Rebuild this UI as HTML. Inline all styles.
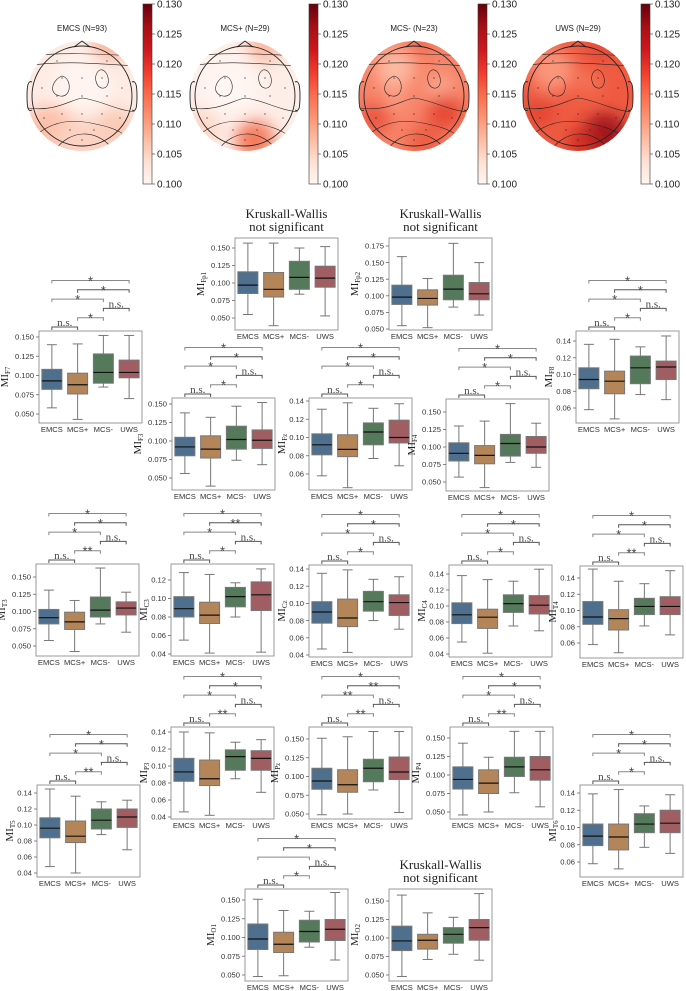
<!DOCTYPE html>
<html><head><meta charset="utf-8"><style>
html,body{margin:0;padding:0;background:#fff;}
svg{display:block;}
</style></head><body>
<svg id="fig" width="686" height="991" viewBox="0 0 686 991" xmlns="http://www.w3.org/2000/svg">
<defs>
<linearGradient id="reds" x1="0" y1="1" x2="0" y2="0">
<stop offset="0" stop-color="#fff5f0"/><stop offset="0.125" stop-color="#fee0d2"/><stop offset="0.25" stop-color="#fcbba1"/><stop offset="0.375" stop-color="#fc9272"/><stop offset="0.5" stop-color="#fb6a4a"/><stop offset="0.625" stop-color="#ef3b2c"/><stop offset="0.75" stop-color="#cb181d"/><stop offset="0.875" stop-color="#a50f15"/><stop offset="1" stop-color="#67000d"/>
</linearGradient>
<filter id="blur" x="-50%" y="-50%" width="200%" height="200%"><feGaussianBlur stdDeviation="8"/></filter>
</defs>
<g id="topo"></g>
<g id="boxes"></g>
</svg>
<script>
const groups = ['EMCS','MCS+','MCS-','UWS'];
const boxColors = ['#4e6f8e','#b5855a','#55795b','#a05d62'];
// [whislo, q1, median, q3, whishi]
const statsFp1 = [[0.055,0.085,0.097,0.116,0.157],[0.039,0.080,0.091,0.115,0.157],[0.084,0.091,0.108,0.131,0.150],[0.053,0.094,0.107,0.124,0.152]];
const statsFp2 = [[0.055,0.087,0.098,0.116,0.159],[0.052,0.086,0.096,0.109,0.126],[0.083,0.094,0.110,0.131,0.179],[0.071,0.094,0.103,0.120,0.150]];
const statsF7 = [[0.058,0.082,0.093,0.108,0.140],[0.043,0.076,0.088,0.103,0.141],[0.085,0.090,0.104,0.128,0.152],[0.070,0.097,0.104,0.120,0.152]];
const statsF8 = [[0.058,0.083,0.094,0.108,0.136],[0.047,0.077,0.092,0.104,0.142],[0.076,0.089,0.108,0.122,0.133],[0.070,0.094,0.109,0.116,0.146]];
const statsF3 = [[0.056,0.080,0.092,0.105,0.138],[0.039,0.077,0.089,0.107,0.132],[0.074,0.089,0.102,0.120,0.147],[0.068,0.090,0.101,0.115,0.152]];
const statsFz = [[0.058,0.081,0.092,0.104,0.131],[0.045,0.079,0.087,0.103,0.138],[0.077,0.092,0.106,0.116,0.132],[0.069,0.094,0.100,0.119,0.137]];
const statsF4 = [[0.057,0.080,0.091,0.106,0.130],[0.042,0.076,0.088,0.102,0.137],[0.078,0.087,0.105,0.118,0.162],[0.071,0.091,0.100,0.115,0.134]];
const statsT3 = [[0.058,0.082,0.091,0.103,0.131],[0.042,0.074,0.085,0.099,0.116],[0.082,0.092,0.102,0.121,0.163],[0.070,0.095,0.105,0.114,0.128]];
const statsC3 = [[0.055,0.080,0.089,0.102,0.128],[0.041,0.073,0.082,0.096,0.126],[0.080,0.091,0.102,0.112,0.117],[0.042,0.087,0.104,0.118,0.132]];
const statsCz = [[0.047,0.077,0.090,0.102,0.135],[0.043,0.073,0.083,0.105,0.139],[0.080,0.091,0.102,0.114,0.128],[0.070,0.086,0.101,0.110,0.131]];
const statsC4 = [[0.055,0.078,0.089,0.104,0.138],[0.041,0.072,0.086,0.096,0.133],[0.075,0.092,0.103,0.114,0.131],[0.069,0.090,0.101,0.113,0.146]];
const statsT4 = [[0.058,0.083,0.092,0.111,0.151],[0.048,0.076,0.090,0.101,0.136],[0.081,0.095,0.105,0.115,0.133],[0.070,0.095,0.105,0.117,0.149]];
const statsT5 = [[0.048,0.084,0.096,0.109,0.145],[0.040,0.078,0.086,0.105,0.136],[0.088,0.095,0.106,0.120,0.129],[0.069,0.097,0.110,0.120,0.131]];
const statsP3 = [[0.046,0.082,0.093,0.109,0.140],[0.042,0.077,0.085,0.107,0.139],[0.085,0.095,0.111,0.119,0.128],[0.069,0.095,0.109,0.118,0.131]];
const statsPz = [[0.049,0.083,0.094,0.111,0.151],[0.050,0.079,0.089,0.109,0.153],[0.082,0.093,0.111,0.123,0.160],[0.052,0.096,0.106,0.126,0.160]];
const statsP4 = [[0.046,0.081,0.094,0.111,0.143],[0.050,0.075,0.089,0.107,0.124],[0.076,0.098,0.111,0.124,0.159],[0.057,0.093,0.107,0.125,0.159]];
const statsT6 = [[0.058,0.079,0.090,0.104,0.139],[0.052,0.074,0.089,0.104,0.144],[0.077,0.094,0.104,0.116,0.125],[0.070,0.094,0.105,0.120,0.138]];
const statsO1 = [[0.048,0.084,0.098,0.118,0.151],[0.049,0.080,0.091,0.107,0.136],[0.087,0.094,0.108,0.123,0.135],[0.070,0.096,0.111,0.124,0.160]];
const statsO2 = [[0.048,0.083,0.096,0.116,0.158],[0.071,0.085,0.097,0.105,0.134],[0.078,0.093,0.105,0.114,0.128],[0.070,0.097,0.114,0.125,0.160]];
// significance labels: EMCS-MCS+, MCS+-MCS-, MCS--UWS, EMCS-MCS-, MCS+-UWS, EMCS-UWS
const sigStd = ['n.s.','*','n.s.','*','*','*'];
const sigT = ['n.s.','**','n.s.','*','*','*'];
const sigC3 = ['n.s.','*','n.s.','*','**','*'];
const sigPz = ['n.s.','**','n.s.','**','**','*'];
const sigO1 = ['n.s.','*','n.s.','','*','*'];
const ticks3 = [0.050,0.075,0.100,0.125,0.150];
const ticksFp2 = [0.050,0.075,0.100,0.125,0.150,0.175];
const ticks2a = [0.06,0.08,0.10,0.12,0.14];
const ticks2b = [0.04,0.06,0.08,0.10,0.12];
const ticks2c = [0.04,0.06,0.08,0.10,0.12,0.14];
const cbTicks = [0.100,0.105,0.110,0.115,0.120,0.125,0.130];
const topoTitles = ['EMCS (N=93)','MCS+ (N=29)','MCS- (N=23)','UWS (N=29)'];

const pairs = [[0,1],[1,2],[2,3],[0,2],[1,3],[0,3]];
const panels = [
 {key:'Fp1',x:235,y:238,ticks:ticks3,dec:3,a:[0.150,248],b:[0.050,318],stats:statsFp1,sig:null},
 {key:'Fp2',x:389,y:238,ticks:ticksFp2,dec:3,a:[0.175,246],b:[0.050,329],stats:statsFp2,sig:null},
 {key:'F7',x:39,y:331,ticks:ticks3,dec:3,a:[0.150,337],b:[0.050,414],stats:statsF7,sig:sigStd},
 {key:'F8',x:576,y:331,ticks:ticks2a,dec:2,a:[0.14,341],b:[0.06,408],stats:statsF8,sig:sigStd},
 {key:'F3',x:172,y:398,ticks:ticks3,dec:3,a:[0.150,404],b:[0.050,478],stats:statsF3,sig:sigStd},
 {key:'Fz',x:309,y:398,ticks:ticks2a,dec:2,a:[0.14,401],b:[0.06,474],stats:statsFz,sig:sigStd},
 {key:'F4',x:446,y:399,ticks:ticks3,dec:3,a:[0.150,412],b:[0.050,482],stats:statsF4,sig:sigStd},
 {key:'T3',x:36,y:564,ticks:ticks3,dec:3,a:[0.150,577],b:[0.050,646],stats:statsT3,sig:sigT},
 {key:'C3',x:171,y:564,ticks:ticks2b,dec:2,a:[0.12,580],b:[0.04,654],stats:statsC3,sig:sigC3},
 {key:'Cz',x:309,y:565,ticks:ticks2c,dec:2,a:[0.14,569],b:[0.04,655],stats:statsCz,sig:sigStd},
 {key:'C4',x:449,y:565,ticks:ticks2c,dec:2,a:[0.14,574],b:[0.04,654],stats:statsC4,sig:sigStd},
 {key:'T4',x:580,y:566,ticks:ticks2a,dec:2,a:[0.14,578],b:[0.06,643],stats:statsT4,sig:sigT},
 {key:'T5',x:37,y:785,ticks:ticks2c,dec:2,a:[0.14,793],b:[0.04,873],stats:statsT5,sig:sigT},
 {key:'P3',x:171,y:727,ticks:ticks2c,dec:2,a:[0.14,732],b:[0.04,817],stats:statsP3,sig:sigT},
 {key:'Pz',x:309,y:727,ticks:ticks3,dec:3,a:[0.150,739],b:[0.050,814],stats:statsPz,sig:sigPz},
 {key:'P4',x:450,y:727,ticks:ticks3,dec:3,a:[0.150,738],b:[0.050,812],stats:statsP4,sig:sigT},
 {key:'T6',x:580,y:785,ticks:ticks2a,dec:2,a:[0.14,793],b:[0.06,862],stats:statsT6,sig:sigStd},
 {key:'O1',x:245,y:889,ticks:ticks3,dec:3,a:[0.150,900],b:[0.050,975],stats:statsO1,sig:sigO1},
 {key:'O2',x:389,y:889,ticks:ticks3,dec:3,a:[0.150,901],b:[0.050,975],stats:statsO2,sig:null}
];
const NS='http://www.w3.org/2000/svg';
function mk(tag,parent){const e=document.createElementNS(NS,tag);parent.appendChild(e);return e;}
function set(e,o){for(const k in o)e.setAttribute(k,o[k]);return e;}
const SANS='"Liberation Sans", "DejaVu Sans", sans-serif';
const SERIF='"Liberation Serif", "DejaVu Serif", serif';

// ---------- boxplot panels ----------
const root=document.getElementById('boxes');
panels.forEach(p=>{
  const W=103,H=92;
  const g=mk('g',root);
  
  
  const k=(p.a[1]-p.b[1])/(p.a[0]-p.b[0]);
  const yS=v=>p.b[1]+(v-p.b[0])*k;
  const xS=i=>p.x+W*(i+0.5)/4;
  const fr=mk('rect',g);
  set(fr,{x:p.x,y:p.y,width:W,height:H,fill:'none',stroke:'#999','stroke-width':1});
  
  
  p.ticks.forEach(t=>{
    const y=yS(t);
    const tl=mk('line',g);
    set(tl,{x1:p.x-3,x2:p.x,y1:y,y2:y,stroke:'#666','stroke-width':0.8});
    
    
    const tx=mk('text',g);
    set(tx,{x:p.x-5,y:y+2.7,'text-anchor':'end','font-size':7.6,'font-family':SANS,fill:'#333'});
    tx.textContent=t.toFixed(p.dec);
    
    
  });
  const yl=mk('text',g);
  const lx=p.x-(p.dec===3?31:24), ly=p.y+H/2;
  set(yl,{x:lx,y:ly,transform:`rotate(-90 ${lx} ${ly})`,'text-anchor':'middle','font-size':11,'font-family':SERIF,fill:'#222'});
  yl.textContent='MI';
  const sub=mk('tspan',yl);
  set(sub,{'font-size':7,dy:2});
  sub.textContent=p.key;
  
  
  p.stats.forEach((s,i)=>{
    const cx=xS(i),bw=20;
    const bg=mk('g',g);
    
    
    const w1=mk('line',bg);set(w1,{x1:cx,x2:cx,y1:yS(s[0]),y2:yS(s[1]),stroke:'#777','stroke-width':1});
    
    
    const w2=mk('line',bg);set(w2,{x1:cx,x2:cx,y1:yS(s[3]),y2:yS(s[4]),stroke:'#777','stroke-width':1});
    
    
    const c1=mk('line',bg);set(c1,{x1:cx-5,x2:cx+5,y1:yS(s[0]),y2:yS(s[0]),stroke:'#777','stroke-width':1});
    
    
    const c2=mk('line',bg);set(c2,{x1:cx-5,x2:cx+5,y1:yS(s[4]),y2:yS(s[4]),stroke:'#777','stroke-width':1});
    
    
    const r=mk('rect',bg);set(r,{x:cx-bw/2,y:yS(s[3]),width:bw,height:yS(s[1])-yS(s[3]),fill:boxColors[i],stroke:'#777','stroke-width':1});
    
    
    const m=mk('line',bg);set(m,{x1:cx-bw/2,x2:cx+bw/2,y1:yS(s[2]),y2:yS(s[2]),stroke:'#111','stroke-width':1.2});
    
    
  });
  groups.forEach((gname,i)=>{
    const t=mk('text',g);
    set(t,{x:xS(i),y:p.y+H+9,'text-anchor':'middle','font-size':7.6,'font-family':SANS,fill:'#333'});
    t.textContent=gname;
    
    
  });
  if(p.sig){
    p.sig.forEach((lab,j)=>{
      const [i1,i2]=pairs[j];
      const ly2=p.y-4-j*9.3;
      const x1=xS(i1),x2=xS(i2);
      const bl=mk('path',g);
      set(bl,{d:`M${x1},${ly2+3}V${ly2}H${x2}V${ly2+3}`,fill:'none',stroke:j%2?'#888':'#555','stroke-width':1});
      
      
      if(lab){
        const t=mk('text',g);
        const isNs=lab==='n.s.';
        set(t,{x:(x1+x2)/2,y:isNs?ly2-1:ly2+5,'text-anchor':'middle','font-size':isNs?11:13,'font-family':isNs?SERIF:SANS,fill:'#444'});
        t.textContent=lab;
        
        
      }
    });
  } else {
    const t=mk('text',g);
    set(t,{x:p.x+W/2,'text-anchor':'middle','font-size':13,'font-family':SERIF,fill:'#222'});
    const a1=mk('tspan',t);set(a1,{x:p.x+W/2,y:p.y-20});a1.textContent='Kruskall-Wallis';
    const a2=mk('tspan',t);set(a2,{x:p.x+W/2,y:p.y-7});a2.textContent='not significant';
    
    
  }
});

// ---------- topomaps ----------
const topo=document.getElementById('topo');
const heads=[
 {cx:82,base:'#fdebe3',blobs:[[50,135,30,'#fcc0a8'],[115,130,22,'#fbcab6'],[82,145,28,'#fcd2c2'],[110,44,18,'#fbb69c'],[82,85,30,'#fff4ef']]},
 {cx:245,base:'#fdeee7',blobs:[[255,140,20,'#f57a5c'],[265,45,18,'#fbbaa1'],[200,130,20,'#fdd7c8'],[230,85,30,'#fff5f1']]},
 {cx:414,base:'#f78469',blobs:[[395,68,20,'#fcb9a1'],[440,88,14,'#fba88e'],[445,112,18,'#e64a35'],[375,118,16,'#eb5540'],[425,142,18,'#ee5e44'],[420,42,12,'#f26548'],[395,100,12,'#fa9a7e']]},
 {cx:578,base:'#ef5b42',blobs:[[552,70,22,'#fa967b'],[605,135,22,'#a0131a'],[582,142,14,'#cd2a24'],[540,112,14,'#e24431'],[600,50,14,'#e84a36'],[588,82,12,'#f57559']]}
];
heads.forEach((h,hi)=>{
  const cy=96;
  const g=mk('g',topo);
  
  
  const cp=mk('clipPath',g);cp.setAttribute('id','clip'+hi);
  const cc=mk('circle',cp);set(cc,{cx:h.cx,cy:cy,r:55});
  const fg=mk('g',g);fg.setAttribute('clip-path','url(#clip'+hi+')');
  const base=mk('circle',fg);set(base,{cx:h.cx,cy:cy,r:55,fill:h.base});
  const bf=mk('g',fg);bf.setAttribute('filter','url(#blur)');
  h.blobs.forEach(b=>{const c=mk('circle',bf);set(c,{cx:b[0],cy:b[1],r:b[2],fill:b[3]});});
  const cs=mk('g',fg);set(cs,{fill:'none',stroke:'#222','stroke-width':0.6});
  const dx=h.cx-82;
  [`M${28+dx},66 C${60+dx},60 ${100+dx},64 ${136+dx},66`,
   `M${30+dx},56 C${60+dx},52 ${100+dx},54 ${134+dx},56`,
   `M${28+dx},108 C${55+dx},112 ${70+dx},100 ${82+dx},98 C${100+dx},100 ${115+dx},110 ${136+dx},112`,
   `M${40+dx},132 C${60+dx},118 ${80+dx},120 ${100+dx},125 C${115+dx},128 ${125+dx},134 ${130+dx},140`,
   `M${62+dx},76 C${52+dx},80 ${48+dx},94 ${60+dx},96 C${72+dx},98 ${72+dx},78 ${62+dx},76Z`,
   `M${100+dx},70 C${92+dx},74 ${96+dx},90 ${104+dx},88 C${112+dx},86 ${108+dx},68 ${100+dx},70Z`,
   `M${55+dx},150 C${70+dx},130 ${95+dx},128 ${112+dx},148`].forEach(d=>{const pth=mk('path',cs);pth.setAttribute('d',d);});
  const o=mk('circle',g);set(o,{cx:h.cx,cy:cy,r:50,fill:'none',stroke:'#222','stroke-width':0.9});
  
  
  const nose=mk('path',g);set(nose,{d:`M${h.cx-8},${cy-49}L${h.cx},${cy-55}L${h.cx+8},${cy-49}`,fill:'none',stroke:'#222','stroke-width':0.9});
  
  
  [-1,1].forEach(sd=>{
    const e=mk('path',g);
    const ex=h.cx+sd*50;
    set(e,{d:`M${ex},${cy-14} C${ex+sd*4},${cy-16} ${ex+sd*5},${cy-10} ${ex+sd*5},${cy} C${ex+sd*5},${cy+12} ${ex+sd*4},${cy+16} ${ex},${cy+14}`,fill:'none',stroke:'#222','stroke-width':0.9});
    
    
  });
  [[-25,-35],[25,-35],[-20,-18],[20,-18],[0,-18],[-40,-8],[-25,0],[0,0],[25,0],[40,-8],[-20,18],[0,18],[20,18],[-12,34],[12,34],[0,44],[-38,22],[38,22]].forEach(d=>{
    const c=mk('circle',g);set(c,{cx:h.cx+d[0],cy:cy+d[1],r:0.6,fill:'#222'});
  });
  const t=mk('text',g);
  set(t,{x:h.cx,y:31,'text-anchor':'middle','font-size':8,'font-family':SANS,fill:'#222'});
  t.textContent=topoTitles[hi];
  
  
});
const cbX=[143,309,478,641];
cbX.forEach((x,ci)=>{
  const g=mk('g',topo);
  
  
  const r=mk('rect',g);set(r,{x:x,y:4,width:9,height:180,fill:'url(#reds)',stroke:'#333','stroke-width':0.6});
  cbTicks.forEach(v=>{
    const y=184-(v-0.100)/0.030*180;
    const tl=mk('line',g);set(tl,{x1:x+9,x2:x+12,y1:y,y2:y,stroke:'#333','stroke-width':0.6});
    const t=mk('text',g);set(t,{x:x+14,y:y+3.5,'font-size':10,'font-family':SANS,fill:'#222'});
    t.textContent=v.toFixed(3);
    
    
  });
});
</script>
</body></html>
